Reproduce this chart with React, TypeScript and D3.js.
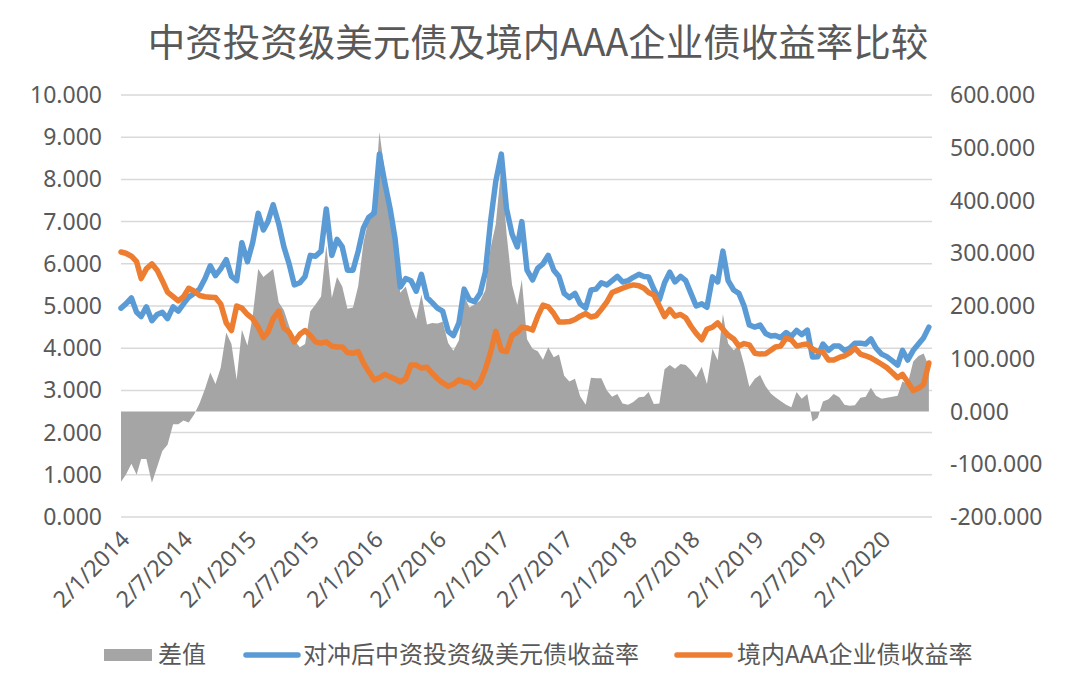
import React from "react";
import * as d3 from "d3";

const title = "中资投资级美元债及境内AAA企业债收益率比较";
const legendLabels = ["差值", "对冲后中资投资级美元债收益率", "境内AAA企业债收益率"];

const xTickLabels = [
  "2/1/2014", "2/7/2014", "2/1/2015", "2/7/2015", "2/1/2016", "2/7/2016", "2/1/2017",
  "2/7/2017", "2/1/2018", "2/7/2018", "2/1/2019", "2/7/2019", "2/1/2020",
];
const leftTicks = [0, 1, 2, 3, 4, 5, 6, 7, 8, 9, 10];
const rightTicks = [-200, -100, 0, 100, 200, 300, 400, 500, 600];

// semi-monthly observations, Jan 2014 .. May 2020 (1st and 16th of each month)
const usdYield = [
  4.95, 5.05, 5.19, 4.85, 4.75, 4.98, 4.65, 4.8, 4.85, 4.7,
  4.98, 4.88, 5.05, 5.21, 5.3, 5.4, 5.65, 5.95, 5.72, 5.88,
  6.1, 5.7, 5.6, 6.5, 6.05, 6.5, 7.2, 6.8, 7.0, 7.4,
  6.95, 6.4, 6.0, 5.5, 5.55, 5.7, 6.2, 6.18, 6.3, 7.3,
  6.2, 6.58, 6.4, 5.85, 5.85, 6.3, 6.85, 7.1, 7.2, 8.6,
  7.9, 7.3, 6.6, 5.45, 5.65, 5.6, 5.35, 5.75, 5.2, 5.08,
  4.95, 4.88, 4.4, 4.3, 4.6, 5.4, 5.15, 5.1, 5.3, 5.8,
  7.0, 7.95, 8.6, 7.3, 6.7, 6.4, 7.0, 5.85, 5.62, 5.9,
  6.0, 6.2, 5.85, 5.7, 5.3, 5.2, 5.3, 5.05, 4.95, 5.38,
  5.4, 5.55, 5.5, 5.6, 5.7, 5.57, 5.6, 5.68, 5.75, 5.7,
  5.69, 5.4, 5.15, 5.55, 5.8, 5.57, 5.7, 5.6, 5.3, 5.0,
  5.05, 4.97, 5.69, 5.57, 6.3, 5.6, 5.38, 5.3, 5.0, 4.55,
  4.5, 4.55, 4.35, 4.29, 4.3, 4.25, 4.37, 4.28, 4.42, 4.32,
  4.43, 3.79, 3.8, 4.1, 3.95, 4.05, 4.05, 3.95, 4.0, 4.12,
  4.12, 4.1, 4.22, 4.0, 3.86, 3.8, 3.7, 3.6, 3.95, 3.72,
  3.95, 4.1, 4.25, 4.5,
];

const aaaYield = [
  6.28, 6.25, 6.18, 6.05, 5.65, 5.88, 6.0, 5.85, 5.6, 5.33,
  5.22, 5.12, 5.22, 5.42, 5.35, 5.25, 5.22, 5.21, 5.2, 5.05,
  4.6, 4.42, 5.0, 4.95, 4.8, 4.7, 4.5, 4.25, 4.38, 4.7,
  4.88, 4.48, 4.38, 4.15, 4.33, 4.42, 4.3, 4.15, 4.12, 4.15,
  4.05, 4.03, 4.03, 3.9, 3.88, 3.92, 3.65, 3.45, 3.25, 3.3,
  3.38, 3.32, 3.27, 3.2, 3.28, 3.6, 3.6, 3.53, 3.55, 3.4,
  3.28, 3.18, 3.1, 3.15, 3.25, 3.2, 3.18, 3.07, 3.2, 3.5,
  3.9, 4.4, 3.95, 3.92, 4.3, 4.38, 4.5, 4.48, 4.43, 4.76,
  5.02, 4.98, 4.82, 4.62, 4.62, 4.63, 4.68, 4.76, 4.82, 4.74,
  4.77, 4.92, 5.1, 5.32, 5.37, 5.42, 5.47, 5.5, 5.48, 5.42,
  5.32, 5.26, 5.0, 4.75, 4.92, 4.76, 4.8, 4.72, 4.52, 4.35,
  4.2, 4.45, 4.5, 4.6, 4.45, 4.31, 4.22, 4.05, 4.11, 4.08,
  3.88, 3.86, 3.87, 3.95, 4.03, 4.05, 4.24, 4.2, 4.05, 4.08,
  4.1, 3.98, 3.92, 3.91, 3.72, 3.72, 3.78, 3.82, 3.89, 4.0,
  3.86, 3.82, 3.77, 3.7, 3.62, 3.54, 3.42, 3.3, 3.38, 3.2,
  3.0, 3.05, 3.15, 3.65,
];

const dates = d3
  .timeMonth.range(new Date(2014, 0, 1), new Date(2020, 5, 1))
  .flatMap((m, i) => [
    new Date(m.getFullYear(), m.getMonth(), i === 0 ? 2 : 1),
    new Date(m.getFullYear(), m.getMonth(), 16),
  ]);

const parseDmy = (s: string) => {
  const [d, m, y] = s.split("/").map(Number);
  return new Date(y, m - 1, d);
};

const W = 1075;
const H = 688;
const plot = { left: 121, right: 932, top: 95, bottom: 517 };

const GRAY = "#A5A5A5";
const BLUE = "#5B9BD5";
const ORANGE = "#ED7D31";
const TEXT = "#595959";
const LATIN = "'Noto Sans', 'Liberation Sans', sans-serif";
const CJK = "'Noto Sans CJK SC', 'Noto Sans', sans-serif";

export default function App() {
  const rows = dates.map((date, i) => ({
    date,
    usd: usdYield[i],
    aaa: aaaYield[i],
    spread: (usdYield[i] - aaaYield[i]) * 100,
  }));

  const x = d3
    .scaleTime()
    .domain([new Date(2014, 0, 2), new Date(2020, 4, 25)])
    .range([plot.left, plot.right]);
  const yL = d3.scaleLinear().domain([0, 10]).range([plot.bottom, plot.top]);
  const yR = d3.scaleLinear().domain([-200, 600]).range([plot.bottom, plot.top]);

  const area = d3
    .area<(typeof rows)[number]>()
    .x((d) => x(d.date))
    .y0(yR(0))
    .y1((d) => yR(d.spread));
  const usdLine = d3
    .line<(typeof rows)[number]>()
    .x((d) => x(d.date))
    .y((d) => yL(d.usd));
  const aaaLine = d3
    .line<(typeof rows)[number]>()
    .x((d) => x(d.date))
    .y((d) => yL(d.aaa));

  return (
    <div style={{ position: "fixed", left: 0, top: 0 }}>
      <svg width={W} height={H} style={{ display: "block", background: "#fff" }}>
        <text
          x={538}
          y={56}
          textAnchor="middle"
          fontFamily={CJK}
          fontSize={37.5}
          fill={TEXT}
        >
          {title}
        </text>

        {leftTicks.map((t) => (
          <line
            key={"g" + t}
            x1={plot.left}
            x2={plot.right}
            y1={yL(t)}
            y2={yL(t)}
            stroke="#D9D9D9"
            strokeWidth={1.5}
          />
        ))}

        <path d={area(rows) ?? ""} fill={GRAY} />
        <path
          d={usdLine(rows) ?? ""}
          fill="none"
          stroke={BLUE}
          strokeWidth={5.5}
          strokeLinejoin="round"
          strokeLinecap="round"
        />
        <path
          d={aaaLine(rows) ?? ""}
          fill="none"
          stroke={ORANGE}
          strokeWidth={5.5}
          strokeLinejoin="round"
          strokeLinecap="round"
        />

        {leftTicks.map((t) => (
          <text
            key={"l" + t}
            x={102}
            y={yL(t)}
            dy="0.35em"
            textAnchor="end"
            fontFamily={LATIN}
            fontSize={23}
            fill={TEXT}
          >
            {t.toFixed(3)}
          </text>
        ))}
        {rightTicks.map((t) => (
          <text
            key={"r" + t}
            x={950}
            y={yR(t)}
            dy="0.35em"
            textAnchor="start"
            fontFamily={LATIN}
            fontSize={23}
            fill={TEXT}
          >
            {t.toFixed(3)}
          </text>
        ))}
        {xTickLabels.map((s) => {
          const tx = x(parseDmy(s));
          return (
            <text
              key={s}
              transform={`translate(${tx + 10},${541}) rotate(-45)`}
              textAnchor="end"
              fontFamily={LATIN}
              fontSize={23}
              fill={TEXT}
            >
              {s}
            </text>
          );
        })}

        <g fontFamily={CJK} fontSize={24} fill={TEXT}>
          <rect x={104} y={649} width={48} height={12} fill={GRAY} />
          <text x={158} y={655} dy="0.35em">
            {legendLabels[0]}
          </text>
          <line x1={246} x2={298} y1={655} y2={655} stroke={BLUE} strokeWidth={5.5} strokeLinecap="round" />
          <text x={303} y={655} dy="0.35em">
            {legendLabels[1]}
          </text>
          <line x1={677} x2={730} y1={655} y2={655} stroke={ORANGE} strokeWidth={5.5} strokeLinecap="round" />
          <text x={737} y={655} dy="0.35em">
            {legendLabels[2]}
          </text>
        </g>
      </svg>
    </div>
  );
}
